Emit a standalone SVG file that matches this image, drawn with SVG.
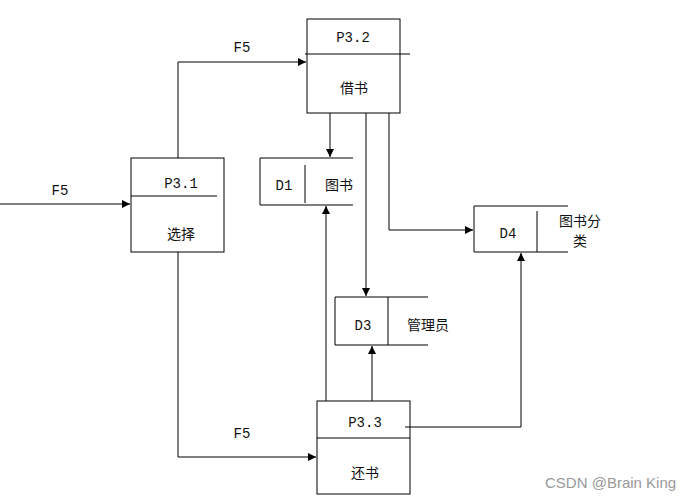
<svg xmlns="http://www.w3.org/2000/svg" width="693" height="503" viewBox="0 0 693 503">
<style>
.b{fill:none;stroke:#000;stroke-width:1}
.l{fill:none;stroke:#000;stroke-width:1}
text{font-family:"Liberation Mono","Noto Sans CJK SC",monospace;font-size:14px;fill:#111;text-anchor:middle}
.wm{font-family:"Liberation Sans",sans-serif;font-size:15px;fill:#999;text-anchor:start}
</style>
<defs>
<marker id="a" viewBox="0 0 10 10" refX="10" refY="5" markerWidth="10" markerHeight="8" markerUnits="userSpaceOnUse" orient="auto"><path d="M0,0L10,5L0,10z" fill="#000"/></marker>
</defs>
<rect width="693" height="503" fill="#fff"/>
<g id="connectors">
<path class="l" d="M0,204H130" marker-end="url(#a)"/>
<path class="l" d="M178,158V62H306" marker-end="url(#a)"/>
<path class="l" d="M178,252V457H316" marker-end="url(#a)"/>
<path class="l" d="M330,113V157" marker-end="url(#a)"/>
<path class="l" d="M366,113V296" marker-end="url(#a)"/>
<path class="l" d="M389,113V230H473" marker-end="url(#a)"/>
<path class="l" d="M326,401V206" marker-end="url(#a)"/>
<path class="l" d="M372,401V346" marker-end="url(#a)"/>
<path class="l" d="M405,427H521V253" marker-end="url(#a)"/>
<text x="242" y="52">F5</text>
<text x="60" y="195">F5</text>
<text x="242" y="438">F5</text>
</g>
<g id="P3.2">
<rect class="b" x="307" y="19" width="93" height="94"/>
<path class="l" d="M305,54H410"/>
<text x="353" y="42">P3.2</text>
<text x="354" y="93">借书</text>
</g>
<g id="P3.1">
<rect class="b" x="131" y="158" width="93" height="94"/>
<path class="l" d="M131,196H217"/>
<text x="181" y="188">P3.1</text>
<text x="181" y="239">选择</text>
</g>
<g id="P3.3">
<rect class="b" x="317" y="401" width="93" height="93"/>
<path class="l" d="M317,438H410"/>
<text x="365" y="427">P3.3</text>
<text x="365" y="478">还书</text>
</g>
<g id="D1">
<path class="l" d="M353,158H260V205H353M305,165V203"/>
<text x="284" y="190">D1</text>
<text x="339" y="190">图书</text>
</g>
<g id="D3">
<path class="l" d="M428,297H335V345H428M388,297V345"/>
<text x="363" y="330">D3</text>
<text x="428" y="330">管理员</text>
</g>
<g id="D4">
<path class="l" d="M568,206H474V252H568M537,211V252"/>
<text x="508" y="238">D4</text>
<text x="580" y="226">图书分</text>
<text x="580" y="246">类</text>
</g>
<text class="wm" x="545" y="488">CSDN @Brain King</text>
</svg>
